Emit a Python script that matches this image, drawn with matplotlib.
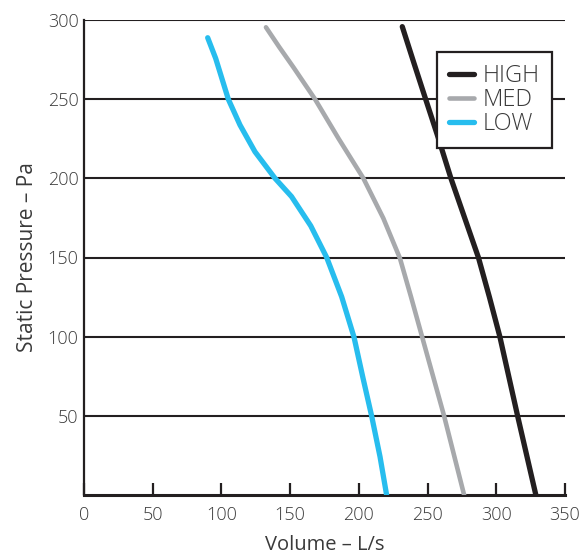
import matplotlib
matplotlib.use("Agg")
import matplotlib.pyplot as plt

plt.rcParams['font.family'] = ['Open Sans', 'DejaVu Sans']
plt.rcParams['font.weight'] = 'light'

# fan curves (volume L/s, static pressure Pa)
high_x = [231.6, 240, 248.6, 258, 267, 277, 287, 295, 302.6, 315.5, 328.8]
high_y = [295.8, 273, 250, 225, 200, 175, 150, 125, 100, 50, 0]

med_x = [132.4, 142, 152.5, 168.1, 185.1, 203.3, 217.8, 229.9, 238, 246, 262, 276.6]
med_y = [295.4, 283, 270, 250, 225.3, 200, 174.8, 149.5, 125, 100, 50, 0]

low_x = [90, 95.8, 105, 113.5, 124.4, 139, 151, 165, 176.6, 187.5, 196.5,
         202.8, 209.3, 215.4, 220.2]
low_y = [288.8, 275.8, 250, 233.7, 216.8, 200, 188.5, 170, 150, 125.2, 99.6,
         74.7, 49.9, 24.2, 0]

x_ticks = [0, 50, 100, 150, 200, 250, 300, 350]
y_ticks = [50, 100, 150, 200, 250, 300]

ink = '#231f20'
text_col = '#3a3a3a'

fig = plt.figure(figsize=(5.82, 5.58), dpi=100)
ax = fig.add_axes([84 / 582, 1 - 495 / 558, 481 / 582, 475 / 558])

for y in y_ticks:
    ax.axhline(y, color=ink, lw=1.5, zorder=1)

ax.plot(high_x, high_y, color=ink, lw=3.8, solid_capstyle='round',
        solid_joinstyle='round', label='HIGH', zorder=3)
ax.plot(med_x, med_y, color='#a7a9ac', lw=3.3, solid_capstyle='round',
        solid_joinstyle='round', label='MED', zorder=3)
ax.plot(low_x, low_y, color='#27bdee', lw=3.8, solid_capstyle='round',
        solid_joinstyle='round', label='LOW', zorder=3)

ax.set_xlim(0, 350)
ax.set_ylim(0, 300)
ax.set_xticks(x_ticks)
ax.set_yticks(y_ticks)

for s in ['top', 'right']:
    ax.spines[s].set_visible(False)
ax.spines['left'].set_linewidth(1.6)
ax.spines['left'].set_color(ink)
ax.spines['bottom'].set_linewidth(2.2)
ax.spines['bottom'].set_color(ink)

ax.tick_params(axis='x', direction='in', length=9, width=1.6, color=ink,
               pad=8, labelsize=13, labelcolor=text_col)
ax.tick_params(axis='y', length=0, pad=4, labelsize=13, labelcolor=text_col)

ax.set_xlabel('Volume – L/s', fontsize=14.5, color=text_col, labelpad=8)
ax.set_ylabel('Static Pressure – Pa', fontsize=15, color=text_col, labelpad=7)

leg = ax.legend(loc='upper right', bbox_to_anchor=(0.973, 0.9326), fontsize=17,
                frameon=True, fancybox=False, handlelength=1.05, handletextpad=0.4,
                labelspacing=0.0, borderpad=0.5, borderaxespad=0)
leg.get_frame().set_edgecolor(ink)
leg.get_frame().set_linewidth(1.6)
leg.get_frame().set_alpha(1)
for t in leg.get_texts():
    t.set_color(text_col)
leg.set_zorder(5)

fig.savefig('out.png', dpi=100)
